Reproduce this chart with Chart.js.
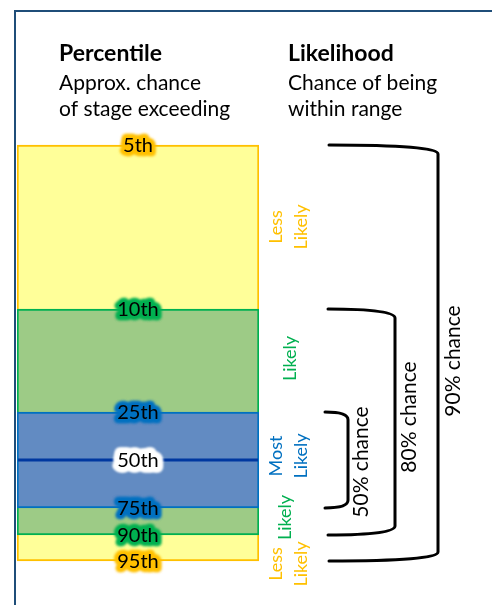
<!DOCTYPE html>
<html><head><meta charset="utf-8">
<script src="https://cdn.jsdelivr.net/npm/chart.js@4/dist/chart.umd.min.js"></script>
<style>html,body{margin:0;padding:0;background:#fff;}canvas{display:block;}</style>
</head><body>
<canvas id="c" width="492" height="605"></canvas>
<script>
// Percentile labels and the stage (arbitrary units) at which each sits
const percentiles = ['5th','10th','25th','50th','75th','90th','95th'];
const stageValues = [46.0, 29.6, 19.3, 14.5, 9.7, 7.0, 4.4];
// Likelihood ranges
const rangeLabels = ['90% chance','80% chance','50% chance'];
const rangeChance = [90, 80, 50];
const likelihoodLabels = [['Less','Likely'],['Likely'],['Most','Likely'],['Likely'],['Less','Likely']];
const headers = ['Percentile','Likelihood'];
const subHeaders = [['Approx. chance','of stage exceeding'],['Chance of being','within range']];

const YEL='#FFFF99', YELB='#FFC000', GRN='#9DCB86', GRNB='#00B050', BLU='#628BC2', BLUB='#0070C0';
const FONT='Lato, "Open Sans", sans-serif';

const bandPlugin = {
  id:'deco',
  beforeDraw(chart){
    const c=chart.ctx;
    c.save();
    c.fillStyle='#fff'; c.fillRect(0,0,chart.width,chart.height);
    c.strokeStyle='#1F4E79'; c.lineWidth=2;
    c.beginPath(); c.moveTo(15,605); c.lineTo(15,11); c.lineTo(492,11); c.stroke();
    c.restore();
  },
  afterDatasetsDraw(chart){
    const c=chart.ctx, y=chart.scales.y, a=chart.chartArea;
    const py = v=>y.getPixelForValue(v);
    c.save();
    // headers
    c.fillStyle='#000'; c.textBaseline='alphabetic'; c.textAlign='left';
    c.font='bold 23px '+FONT;
    c.fillText(headers[0],59,61); c.fillText(headers[1],288,61);
    c.font='21px '+FONT;
    subHeaders[0].forEach((t,i)=>c.fillText(t,59,90+i*26));
    subHeaders[1].forEach((t,i)=>c.fillText(t,288,90+i*26));
    // median line
    const my=py(stageValues[3]);
    c.strokeStyle='#0038A0'; c.lineWidth=3;
    c.beginPath(); c.moveTo(a.left+1,my); c.lineTo(a.right-1,my); c.stroke();
    // percentile labels with glow
    const glows=[YELB,GRNB,BLUB,'#ffffff',BLUB,GRNB,YELB];
    const cx=(a.left+a.right)/2;
    c.font='20px '+FONT; c.textAlign='center'; c.textBaseline='middle';
    percentiles.forEach((p,i)=>{
      const yy=py(stageValues[i]);
      c.save();
      c.filter='blur(1.5px)';
      c.strokeStyle=glows[i]; c.lineJoin='round'; c.lineWidth=i===3?9:7;
      c.strokeText(p,cx,yy+1);
      c.strokeText(p,cx,yy+1);
      if(i===3){ c.lineWidth=10; c.strokeText(p,cx,yy+1); }
      c.restore();
      c.fillStyle='#000'; c.fillText(p,cx,yy+1);
    });
    // likelihood labels (rotated)
    const midPix=[(py(stageValues[0])+py(stageValues[1]))/2,(py(stageValues[1])+py(stageValues[2]))/2-2,
      (py(stageValues[2])+py(stageValues[4]))/2-4,(py(stageValues[4])+py(stageValues[5]))/2-4,(py(stageValues[5])+py(stageValues[6]))/2+16];
    const lcol=[YELB,GRNB,BLUB,GRNB,YELB];
    c.font='18px '+FONT;
    likelihoodLabels.forEach((lines,i)=>{
      c.save(); c.fillStyle=lcol[i];
      const x0 = lines.length===2?276:(i===1?290:285);
      lines.forEach((t,j)=>{
        c.save(); c.translate(x0+j*25,midPix[i]); c.rotate(-Math.PI/2); c.fillText(t,0,0); c.restore();
      });
      c.restore();
    });
    // brackets
    const br=[[0,6,329,438],[1,5,328,395],[2,4,325,348]];
    const lblX=[453,409,361], lblDy=[8,-5,2];
    c.strokeStyle='#000'; c.lineWidth=3; c.lineCap='round';
    br.forEach((b,i)=>{
      const t=py(stageValues[b[0]]), btm=py(stageValues[b[1]]);
      const x1=b[2], x2=b[3], r=Math.min(9,(x2-x1)/3);
      c.beginPath();
      c.moveTo(x1,t); c.quadraticCurveTo(x2,t,x2,t+r);
      c.lineTo(x2,btm-r); c.quadraticCurveTo(x2,btm,x1,btm);
      c.stroke();
      c.save(); c.fillStyle='#000'; c.font='21px '+FONT;
      c.translate(lblX[i],(t+btm)/2+lblDy[i]); c.rotate(-Math.PI/2); c.fillText(rangeLabels[i],0,0); c.restore();
    });
    c.restore();
  }
};

new Chart(document.getElementById('c'),{
  type:'bar',
  data:{
    labels:['Stage'],
    datasets:[
      {label:'5th–95th', data:[[stageValues[6],stageValues[0]]], backgroundColor:YEL, borderColor:YELB, borderWidth:2, borderSkipped:false, grouped:false, order:3},
      {label:'10th–90th', data:[[stageValues[5],stageValues[1]]], backgroundColor:GRN, borderColor:GRNB, borderWidth:2, borderSkipped:false, grouped:false, order:2},
      {label:'25th–75th', data:[[stageValues[4],stageValues[2]]], backgroundColor:BLU, borderColor:BLUB, borderWidth:2, borderSkipped:false, grouped:false, order:1}
    ]
  },
  options:{
    responsive:false, animation:false, devicePixelRatio:1,
    layout:{padding:{left:17,right:233,top:0,bottom:0}},
    plugins:{legend:{display:false},tooltip:{enabled:false},title:{display:false}},
    scales:{
      x:{display:false, offset:true},
      y:{display:false, min:0, max:60.5}
    },
    datasets:{bar:{categoryPercentage:1,barPercentage:1}}
  },
  plugins:[bandPlugin]
});
</script>
</body></html>
